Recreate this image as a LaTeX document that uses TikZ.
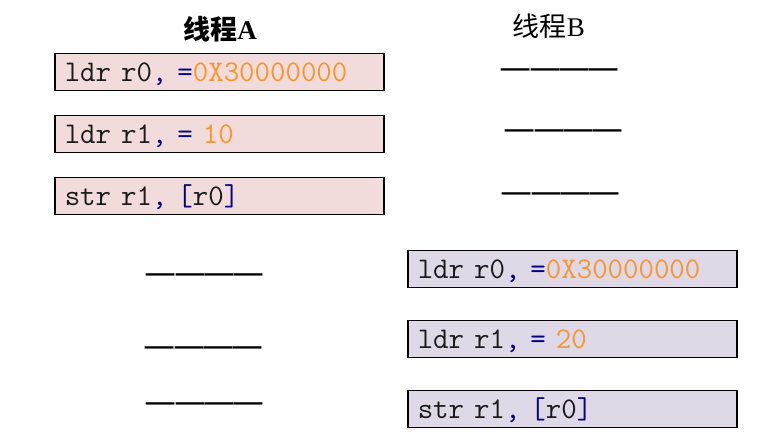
\documentclass[tikz,border=0pt]{standalone}
\usepackage{fontspec}
\usepackage{graphicx}
\newfontfamily\cjk{Noto Sans CJK SC}
\newfontfamily\latser{Liberation Serif}
\definecolor{fillA}{HTML}{F2DCDB}
\definecolor{fillB}{HTML}{DFD8E6}
\definecolor{numc}{HTML}{F7962E}
\definecolor{navyc}{HTML}{000080}
\definecolor{txtc}{HTML}{1A1A1A}
\newcommand{\nm}[1]{\textcolor{numc}{#1}}
\newcommand{\pu}[1]{\textcolor{navyc}{#1}}
\newcommand{\dsh}{\makebox[29.3pt]{\scalebox{1.24}[1.3]{—}}}
\newcommand{\dashrow}{\dsh\dsh\dsh\dsh}
\tikzset{
  codebox/.style={draw=black, line width=1.5pt, anchor=north west,
    minimum width=329pt, minimum height=37pt, inner xsep=10pt, inner ysep=0pt,
    text width=309pt, align=left, text height=22pt, text depth=4pt,
    font=\ttfamily\fontsize{30}{32}\selectfont, text=txtc},
  boxA/.style={codebox, fill=fillA},
  boxB/.style={codebox, fill=fillB},
  title/.style={font=\cjk\fontsize{27}{30}\selectfont, anchor=base, inner sep=0pt},
  gap/.style={font=\cjk\fontsize{29}{32}\selectfont, inner sep=0pt, anchor=base west}
}
\begin{document}
\begin{tikzpicture}[x=1pt, y=-1pt]
\useasboundingbox (0,0) rectangle (764,443);
\node[title] (tA) at (220,40) {\bfseries 线程{\latser A}};
\node[title] (tB) at (549,37) {线程{\latser B}};
% thread A
\node[boxA] (a1) at (54,53) {ldr r0\pu{,} \pu{=}\nm{0X30000000}};
\node[boxA] (a2) at (54,115) {ldr r1\pu{,} \pu{=} \nm{10}};
\node[boxA] (a3) at (54,177) {str r1\pu{,} \pu{[}r0\pu{]}};
\node[gap] (ga1) at (146,286) {\dashrow};
\node[gap] (ga2) at (145,359) {\dashrow};
\node[gap] (ga3) at (146,415) {\dashrow};
% thread B
\node[gap] (gb1) at (501,81) {\dashrow};
\node[gap] (gb2) at (505,142) {\dashrow};
\node[gap] (gb3) at (502,205) {\dashrow};
\node[boxB] (b1) at (407,250) {ldr r0\pu{,} \pu{=}\nm{0X30000000}};
\node[boxB] (b2) at (407,320) {ldr r1\pu{,} \pu{=} \nm{20}};
\node[boxB] (b3) at (407,390) {str r1\pu{,} \pu{[}r0\pu{]}};
\end{tikzpicture}
\end{document}
